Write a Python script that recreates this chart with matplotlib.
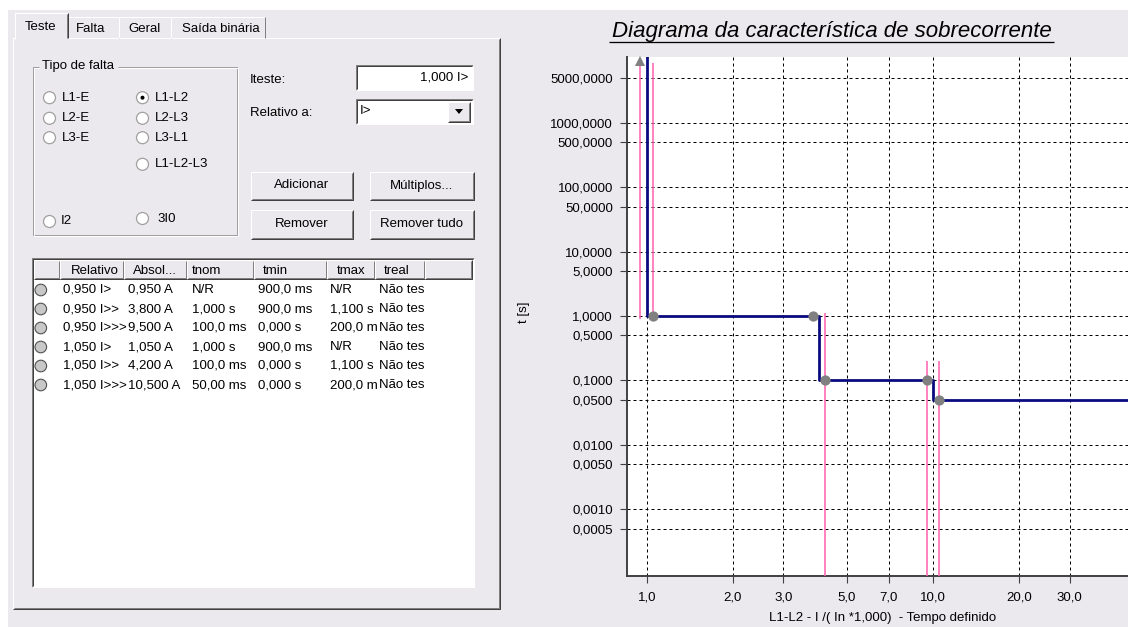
import matplotlib
matplotlib.use('Agg')
import matplotlib.pyplot as plt
from matplotlib.patches import Rectangle, Circle, Polygon
from matplotlib.transforms import blended_transform_factory
from matplotlib.ticker import NullLocator

W, H = 1128, 627

# relay characteristic: pickup (I / In) and definite time [s]
pickups = [1.0, 4.0, 10.0]
delays = [1.0, 0.1, 0.05]

# test points (None = N/R)
mult = [0.95, 3.8, 9.5, 1.05, 4.2, 10.5]
t_nom = [None, 1.0, 0.1, 1.0, 0.1, 0.05]
t_min = [0.9, 0.9, 0.0, 0.9, 0.0, 0.0]
t_max = [None, 1.1, 0.2, None, 1.1, 0.2]

x_ticks = [1, 2, 3, 5, 7, 10, 20, 30]
y_ticks = [5000, 1000, 500, 100, 50, 10, 5, 1, 0.5, 0.1, 0.05, 0.01, 0.005, 0.001, 0.0005]

# table on the left (as shown, cut by the column width)
col_heads = ['Relativo', 'Absol...', 'tnom', 'tmin', 'tmax', 'treal']
col_rel = ['0,950 I>', '0,950 I>>', '0,950 I>>>', '1,050 I>', '1,050 I>>', '1,050 I>>>']
col_abs = ['0,950 A', '3,800 A', '9,500 A', '1,050 A', '4,200 A', '10,500 A']
col_tnom = ['N/R', '1,000 s', '100,0 ms', '1,000 s', '100,0 ms', '50,00 ms']
col_tmin = ['900,0 ms', '900,0 ms', '0,000 s', '900,0 ms', '0,000 s', '0,000 s']
col_tmax = ['N/R', '1,100 s', '200,0 m', 'N/R', '1,100 s', '200,0 m']
col_treal = ['Não tes'] * 6

fault_types = [('L1-E', 0, 0), ('L2-E', 0, 1), ('L3-E', 0, 2),
               ('L1-L2', 1, 0), ('L2-L3', 1, 1), ('L3-L1', 1, 2), ('L1-L2-L3', 1, 3)]
selected = 'L1-L2'

BG = '#ECE9EE'
DARK = '#808080'
DARKER = '#404040'
FONT = 'Liberation Sans'
FS = 9.5

fig = plt.figure(figsize=(W / 100, H / 100), dpi=100)
fig.patch.set_facecolor('white')
ui = fig.add_axes([0, 0, 1, 1])
ui.set_xlim(0, W)
ui.set_ylim(H, 0)
ui.axis('off')


def rect(x0, y0, x1, y1, fc='none', ec='none', lw=1.0, z=1):
    ui.add_patch(Rectangle((x0, y0), x1 - x0, y1 - y0, facecolor=fc,
                           edgecolor=ec, linewidth=lw * 0.72, zorder=z))


def seg(xs, ys, c, lw=1.0, z=2):
    ui.plot(xs, ys, color=c, lw=lw * 0.72, solid_capstyle='butt', zorder=z)


def raised(x0, y0, x1, y1, fill=BG):
    rect(x0, y0, x1, y1, fc=fill)
    seg([x0, x0, x1], [y1, y0, y0], 'white')
    seg([x0, x1, x1], [y1, y1, y0], DARKER)
    seg([x0 + 1, x1 - 1, x1 - 1], [y1 - 1, y1 - 1, y0 + 1], DARK)


def sunken(x0, y0, x1, y1, fill='white'):
    rect(x0, y0, x1, y1, fc=fill)
    seg([x0, x0, x1], [y1, y0, y0], DARK)
    seg([x0 + 1, x0 + 1, x1 - 1], [y1 - 1, y0 + 1, y0 + 1], DARKER)
    seg([x0, x1, x1], [y1, y1, y0], 'white')


def label(x, y, s, ha='left', size=FS, **kw):
    return ui.text(x, y, s, ha=ha, va='center', fontsize=size, family=FONT,
                   color='black', zorder=5, **kw)


def radio(x, y, on=False):
    ui.add_patch(Circle((x, y), 6, facecolor='white', edgecolor='#A0A0A0',
                        linewidth=0.9, zorder=3))
    if on:
        ui.add_patch(Circle((x, y), 2, facecolor='black', edgecolor='none', zorder=4))


# window background
rect(8, 10, W, H, fc=BG, z=0)

# tab control
raised(12.5, 38, 500, 608.5)
tabs = [('Falta', 68, 119, 76), ('Geral', 119, 171, 128), ('Saída binária', 171, 265, 182)]
for name, x0, x1, tx in tabs:
    rect(x0, 17, x1, 38, fc=BG, z=2)
    seg([x0, x0, x1], [38, 17, 17], 'white', z=3)
    seg([x1, x1], [17, 38], DARK, z=3)
    label(tx, 28.5, name)
rect(15, 13, 68, 39.5, fc=BG, z=3)
seg([15, 15, 68], [39, 13, 13], 'white', z=4)
seg([68, 68], [13, 38], DARKER, z=4)
seg([67, 67], [14, 38], DARK, z=4)
label(25, 26.5, 'Teste')

# group box
gx0, gy0, gx1, gy1 = 32.5, 67, 236.5, 235
for off, c in ((0, '#A0A0A0'), (1, 'white')):
    seg([39, gx0 + off, gx0 + off, gx1 + off, gx1 + off, 118],
        [gy0 + off, gy0 + off, gy1 + off, gy1 + off, gy0 + off, gy0 + off], c)
label(41.5, 66.5, 'Tipo de falta')
col_x = [49.5, 142.5]
row_y = [97.7, 118.3, 137.7, 164.3]
for name, c, r in fault_types:
    radio(col_x[c], row_y[r], name == selected)
    label(col_x[c] + 12.5, row_y[r], name)
radio(49.5, 221.5)
label(61, 221.5, 'I2')
radio(142.5, 218.5)
label(157.5, 218.5, '3I0')

# inputs and buttons
label(250, 80, 'Iteste:')
sunken(356, 64.5, 472.5, 89.5)
label(468, 77.5, '1,000 I>', ha='right')
label(250, 112.5, 'Relativo a:')
sunken(356, 99, 472.5, 124)
label(360, 111.5, 'I>')
raised(447.5, 101.5, 470, 121.5)
ui.add_patch(Polygon([[455, 109], [463, 109], [459, 114]], closed=True,
                     facecolor='black', edgecolor='none', zorder=4))
for text, x0, x1, y0, y1 in [('Adicionar', 250.5, 352.5, 171.5, 199.5),
                             ('Múltiplos...', 370, 473.5, 171.5, 199.5),
                             ('Remover', 250.5, 352.5, 209.5, 238.5),
                             ('Remover tudo', 370, 473.5, 209.5, 238.5)]:
    raised(x0, y0, x1, y1)
    label((x0 + x1) / 2, (y0 + y1) / 2, text, ha='center')

# list view
sunken(32, 258, 473.5, 587)
edges = [34, 60, 124, 187, 254, 327, 375, 425, 471.5]
for i in range(len(edges) - 1):
    raised(edges[i], 260, edges[i + 1], 279)
head_x = [70.5, 133, 191.5, 263, 336.5, 384]
for hx, h in zip(head_x, col_heads):
    label(hx, 270.5, h)
row_ys = [290, 309, 328, 347, 366, 385]
text_x = [63.3, 128.3, 191.7, 258.3, 330.2, 378.8]
columns = [col_rel, col_abs, col_tnom, col_tmin, col_tmax, col_treal]
for r, ry in enumerate(row_ys):
    ui.add_patch(Circle((40.8, ry), 5.8, facecolor='#C8C8C8', edgecolor='#505050',
                        linewidth=0.8, zorder=3))
    for c, col in enumerate(columns):
        label(text_x[c], ry, col[r])

# chart
ax = fig.add_axes([626.6 / W, 1 - 575.5 / H, (W - 626.6) / W, (575.5 - 56.7) / H])
ax.set_zorder(2)
ax.set_xscale('log')
ax.set_yscale('log')
ax.set_xlim(0.85, 48.0)
ax.set_ylim(9.39e-5, 1.058e4)
ax.set_facecolor('white')

ax.set_xticks(x_ticks)
ax.set_xticklabels([f'{v:.1f}'.replace('.', ',') for v in x_ticks], family=FONT, fontsize=FS)
ax.set_yticks(y_ticks)
ax.set_yticklabels([f'{v:.4f}'.replace('.', ',') for v in y_ticks], family=FONT, fontsize=FS)
ax.xaxis.set_minor_locator(NullLocator())
ax.yaxis.set_minor_locator(NullLocator())
ax.tick_params(axis='both', direction='out', length=5.3, width=0.8, color=DARKER)
ax.tick_params(axis='y', pad=4.5)
ax.tick_params(axis='x', pad=6.0)
for s in ('top', 'right'):
    ax.spines[s].set_visible(False)
for s in ('left', 'bottom'):
    ax.spines[s].set_color(DARKER)
    ax.spines[s].set_linewidth(1.4)
ax.grid(True, color='black', lw=0.72, linestyle=(0, (3, 3)))
ax.set_axisbelow(True)

# step characteristic
top = 1e5
sx, sy = [pickups[0]], [top]
for i, (p, d) in enumerate(zip(pickups, delays)):
    nxt = pickups[i + 1] if i + 1 < len(pickups) else 1e3
    sx += [p, nxt]
    sy += [d, d]
ax.plot(sx, sy, color='#0A0A80', lw=2.0, zorder=4)

# tolerance lines
nr_top = 8500
lo_floor = 1e-6
for m, lo, hi in zip(mult, t_min, t_max):
    ax.vlines(m, lo if lo > 0 else lo_floor, hi if hi is not None else nr_top,
              color='#FF5FAF', lw=1.1, zorder=3)

# test points
pts = [(m, t) for m, t in zip(mult, t_nom) if t is not None]
ax.plot([p[0] for p in pts], [p[1] for p in pts], 'o', color='#808080',
        markersize=7.4, markeredgewidth=0, zorder=5)
trans = blended_transform_factory(ax.transData, ax.transAxes)
nr = [m for m, t in zip(mult, t_nom) if t is None]
ax.plot(nr, [0.9915] * len(nr), '^', color='#808080', markersize=6.5,
        markeredgewidth=0, transform=trans, zorder=5, clip_on=False)

# titles
label(831.5, 31, 'Diagrama da característica de sobrecorrente', ha='center',
      size=16, style='italic')
seg([609, 1054], [41.7, 41.7], 'black', lw=1.3)
label(524, 312, 't [s]', ha='center', rotation=90)
ui.text(882.5, 612.5, 'L1-L2 - I /( In *1,000)  - Tempo definido', ha='center',
        va='top', fontsize=FS, family=FONT, color='black')

fig.savefig('out.png', dpi=100, facecolor=fig.get_facecolor())
